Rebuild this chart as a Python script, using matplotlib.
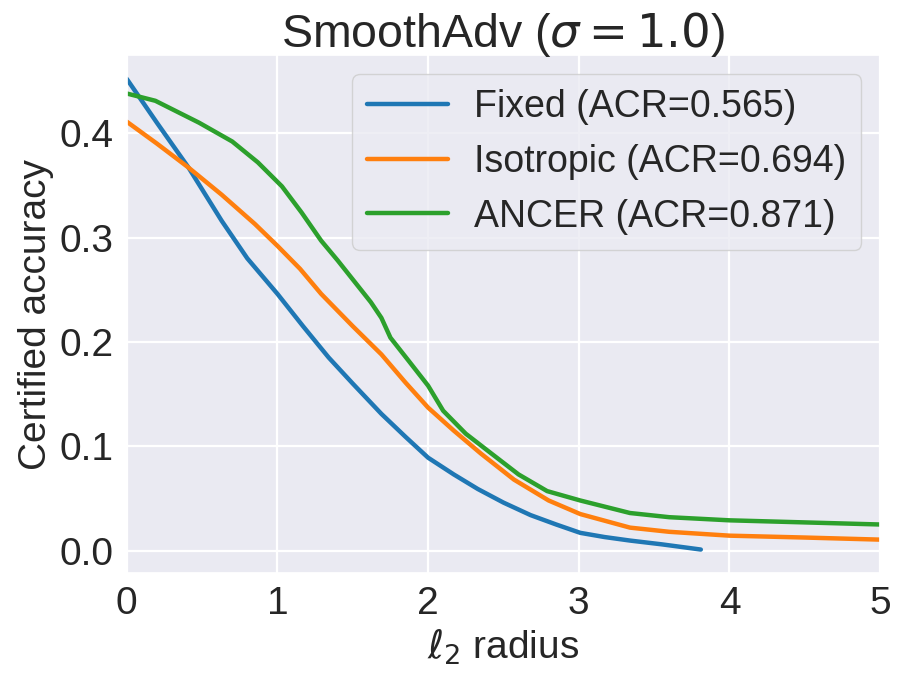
import matplotlib
matplotlib.use("Agg")
import matplotlib.pyplot as plt
import seaborn as sns

# values
fixed_r = [0, 0.2, 0.41, 0.63, 0.8, 1.0, 1.17, 1.34, 1.5, 1.69, 1.85, 2.0,
           2.17, 2.33, 2.5, 2.68, 2.85, 3.01, 3.17, 3.34, 3.55, 3.81]
fixed_acc = [0.452, 0.41, 0.367, 0.316, 0.28, 0.246, 0.215, 0.185, 0.16, 0.131,
             0.109, 0.089, 0.073, 0.059, 0.046, 0.034, 0.025, 0.017, 0.013,
             0.0096, 0.006, 0.001]

iso_r = [0, 0.2, 0.41, 0.63, 0.85, 1.0, 1.15, 1.29, 1.5, 1.69, 1.85, 2.0,
         2.17, 2.35, 2.57, 2.8, 3.01, 3.34, 3.6, 4.0, 4.5, 5.0]
iso_acc = [0.411, 0.39, 0.367, 0.341, 0.313, 0.292, 0.27, 0.246, 0.215, 0.188,
           0.161, 0.137, 0.115, 0.093, 0.068, 0.048, 0.035, 0.022, 0.018,
           0.0143, 0.0125, 0.0105]

ancer_r = [0, 0.19, 0.48, 0.7, 0.87, 1.03, 1.16, 1.29, 1.4, 1.51, 1.62, 1.69,
           1.75, 1.87, 2.0, 2.1, 2.25, 2.42, 2.6, 2.79, 3.01, 3.34, 3.6, 4.0,
           4.5, 5.0]
ancer_acc = [0.438, 0.431, 0.41, 0.392, 0.372, 0.349, 0.324, 0.297, 0.278,
             0.258, 0.238, 0.223, 0.204, 0.182, 0.158, 0.134, 0.112, 0.093,
             0.073, 0.057, 0.048, 0.036, 0.032, 0.029, 0.027, 0.025]

labels = ["Fixed (ACR=0.565)", "Isotropic (ACR=0.694)", "ANCER (ACR=0.871)"]
colors = ["#1f77b4", "#ff7f0e", "#2ca02c"]

sns.set_theme(style="darkgrid", rc={"grid.linewidth": 1.6})
plt.rcParams['font.family'] = ['Liberation Sans', 'DejaVu Sans']

fig, ax = plt.subplots(figsize=(8.99, 6.75), dpi=100)
fig.subplots_adjust(left=0.141, right=0.979, top=0.918, bottom=0.151)

ax.plot(fixed_r, fixed_acc, lw=3.2, color=colors[0], label=labels[0])
ax.plot(iso_r, iso_acc, lw=3.2, color=colors[1], label=labels[1])
ax.plot(ancer_r, ancer_acc, lw=3.2, color=colors[2], label=labels[2])

ax.set_xlim(0, 5)
ax.set_xticks([0, 1, 2, 3, 4, 5])
ax.set_yticks([0.0, 0.1, 0.2, 0.3, 0.4])
ax.tick_params(labelsize=28)
ax.set_xlabel(r"$\ell_2$ radius", fontsize=28)
ax.set_ylabel("Certified accuracy", fontsize=28)
ax.set_title(r"SmoothAdv ($\sigma=1.0$)", fontsize=33.5)
ax.legend(fontsize=27, loc="upper right", handlelength=2.15, handletextpad=0.7)

fig.savefig("out.png", dpi=100)
